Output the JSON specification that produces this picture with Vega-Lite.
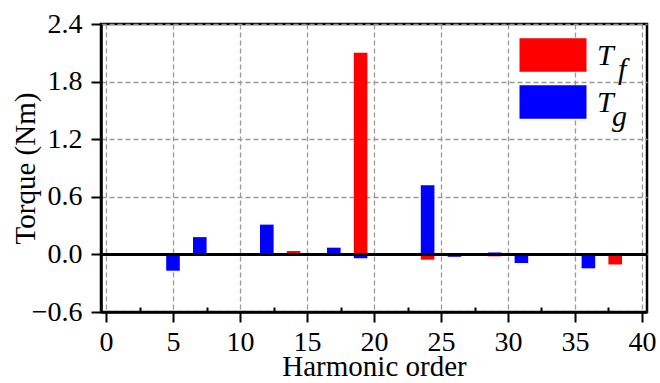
{
  "$schema": "https://vega.github.io/schema/vega-lite/v6.json",
  "width": 546,
  "height": 288,
  "autosize": {"type": "none"},
  "padding": {"left": 101, "top": 24, "right": 13, "bottom": 71},
  "background": "white",
  "config": {
    "font": "Liberation Serif",
    "view": {"stroke": "black", "strokeWidth": 2.5},
    "style": {"guide-label": {"font": "Liberation Serif"}, "guide-title": {"font": "Liberation Serif"}},
    "axis": {
      "domainColor": "black",
      "domainWidth": 2.5,
      "tickColor": "black",
      "tickWidth": 2,
      "labelColor": "black",
      "labelFont": "Liberation Serif",
      "labelFontSize": 28,
      "titleFont": "Liberation Serif",
      "titleFontSize": 29,
      "titleFontWeight": "normal",
      "titleColor": "black",
      "gridColor": "#999999",
      "gridWidth": 1.3,
      "gridDash": [5, 3]
    }
  },
  "data": {
    "values": [
      {"order": 5, "series": "Tg", "torque": -0.17},
      {"order": 7, "series": "Tg", "torque": 0.18},
      {"order": 12, "series": "Tg", "torque": 0.31},
      {"order": 14, "series": "Tf", "torque": 0.035},
      {"order": 17, "series": "Tg", "torque": 0.07},
      {"order": 19, "series": "Tf", "torque": 2.1},
      {"order": 19, "series": "Tg", "torque": -0.04},
      {"order": 24, "series": "Tg", "torque": 0.72},
      {"order": 24, "series": "Tf", "torque": -0.055},
      {"order": 26, "series": "Tg", "torque": -0.025},
      {"order": 29, "series": "Tg", "torque": 0.02},
      {"order": 29, "series": "Tf", "torque": -0.02},
      {"order": 31, "series": "Tg", "torque": -0.09},
      {"order": 36, "series": "Tg", "torque": -0.145},
      {"order": 38, "series": "Tf", "torque": -0.105}
    ]
  },
  "layer": [
    {
      "mark": {"type": "bar", "size": 13.6},
      "encoding": {
        "x": {
          "field": "order",
          "type": "quantitative",
          "title": "Harmonic order",
          "scale": {"domain": [0, 40], "nice": false},
          "axis": {
            "values": [0, 2.5, 5, 7.5, 10, 12.5, 15, 17.5, 20, 22.5, 25, 27.5, 30, 32.5, 35, 37.5, 40],
            "labelExpr": "datum.value % 5 == 0 ? datum.label : ''",
            "labelFlush": false,
            "labelOverlap": false,
            "labelPadding": 6,
            "titlePadding": -4,
            "grid": true,
            "gridOpacity": {"condition": {"test": "datum.value % 5 == 0", "value": 1}, "value": 0},
            "tickSize": {"condition": {"test": "datum.value % 5 == 0", "value": 10}, "value": -5}
          }
        },
        "y": {
          "field": "torque",
          "type": "quantitative",
          "title": "Torque (Nm)",
          "scale": {"domain": [-0.6, 2.4], "nice": false},
          "axis": {
            "values": [-0.6, -0.3, 0, 0.3, 0.6, 0.9, 1.2, 1.5, 1.8, 2.1, 2.4],
            "format": ".1f",
            "labelExpr": "abs(round(datum.value * 10)) % 6 == 0 ? datum.label : ''",
            "labelFlush": false,
            "labelOverlap": false,
            "labelPadding": 9,
            "titlePadding": -9,
            "grid": true,
            "gridOpacity": {"condition": {"test": "abs(round(datum.value * 10)) % 6 == 0", "value": 1}, "value": 0},
            "tickSize": {"condition": {"test": "abs(round(datum.value * 10)) % 6 == 0", "value": 10}, "value": -5}
          }
        },
        "y2": {"datum": 0},
        "color": {
          "field": "series",
          "type": "nominal",
          "scale": {"domain": ["Tf", "Tg"], "range": ["#ff0000", "#0000ff"]},
          "legend": {
            "title": null,
            "orient": "none",
            "legendX": 435,
            "legendY": 14,
            "padding": 0,
            "symbolType": "M-2,-1H2V1H-2Z",
            "symbolSize": 1122,
            "symbolStrokeWidth": 0,
            "symbolOpacity": 1,
            "rowPadding": -3,
            "labelOffset": 27,
            "labelFont": "Liberation Serif",
            "labelFontStyle": "italic",
            "labelFontSize": 30,
            "labelColor": "black",
            "labelAlign": "left",
            "labelBaseline": "middle",
            "labelExpr": "datum.label == 'Tf' ? ['T', '\u200b\u00a0\u00a0\u2009f'] : ['T', '\u200b\u00a0\u00a0g']",
            "encode": {
              "labels": {"update": {"lineHeight": {"value": 14}, "dy": {"value": 1}}}
            }
          }
        }
      }
    },
    {
      "mark": {"type": "rule", "color": "black", "strokeWidth": 2.5},
      "encoding": {"y": {"datum": 0}}
    }
  ]
}
